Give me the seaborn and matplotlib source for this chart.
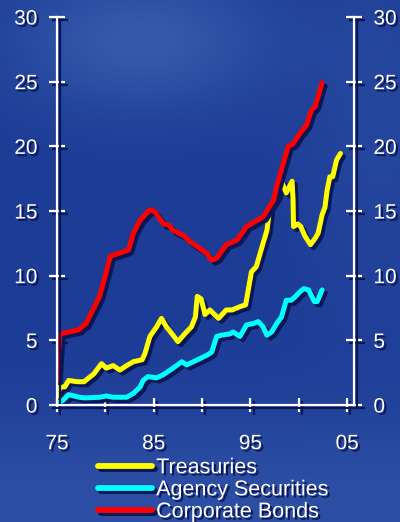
import numpy as np
import pandas as pd
import matplotlib
matplotlib.use("Agg")
import matplotlib.pyplot as plt
import matplotlib.patheffects as pe
import seaborn as sns

# ---- data (billions of dollars, by year) ----
treasury_years = [1975.0, 1975.3, 1975.8, 1976.2, 1977.1, 1977.8, 1978.2, 1978.8, 1979.6, 1980.1,
                  1980.8, 1981.5, 1982.2, 1982.9, 1983.8, 1984.1, 1984.6, 1985.3, 1985.8, 1986.3,
                  1987.0, 1987.5, 1988.2, 1988.9, 1989.3, 1989.5, 1989.9, 1990.3, 1990.8, 1991.7,
                  1992.5, 1993.1, 1993.9, 1994.5, 1995.1, 1995.6, 1996.2, 1996.7, 1997.0, 1997.7,
                  1998.2, 1998.7, 1999.3, 1999.4, 1999.45, 1999.9, 2000.2, 2000.6, 2001.2, 2001.7,
                  2002.0, 2002.4, 2002.7, 2002.9, 2003.2, 2003.5, 2003.9, 2004.3]
treasury_vals = [0.65, 1.4, 1.4, 1.9, 1.8, 1.8, 2.05, 2.4, 3.2, 2.85,
                 3.05, 2.7, 3.05, 3.35, 3.5, 4.0, 5.3, 6.05, 6.7, 6.05,
                 5.4, 4.9, 5.5, 6.05, 6.8, 8.4, 8.2, 7.0, 7.35, 6.7,
                 7.35, 7.35, 7.6, 7.75, 10.3, 10.7, 12.25, 13.5, 15.3, 16.1,
                 17.3, 16.4, 17.3, 15.85, 13.8, 14.0, 13.8, 13.1, 12.4, 12.9,
                 13.3, 14.7, 15.3, 16.5, 17.65, 17.65, 18.95, 19.45]

agency_years = [1975.0, 1975.6, 1976.2, 1977.3, 1977.9, 1979.4, 1980.1, 1980.8, 1982.2, 1982.9,
                1983.6, 1983.9, 1984.4, 1985.3, 1986.0, 1987.0, 1987.9, 1988.4, 1989.1, 1989.8,
                1990.5, 1991.0, 1991.5, 1992.0, 1992.9, 1993.2, 1993.9, 1994.6, 1995.3, 1995.8,
                1996.3, 1996.7, 1997.2, 1997.7, 1998.2, 1998.7, 1999.2, 1999.6, 2000.1, 2000.5,
                2001.0, 2001.6, 2001.9, 2002.4]
agency_vals = [0.15, 0.35, 0.8, 0.6, 0.55, 0.6, 0.7, 0.6, 0.6, 0.9,
               1.4, 1.9, 2.2, 2.1, 2.35, 2.85, 3.35, 3.1, 3.35, 3.6,
               3.85, 4.1, 5.3, 5.4, 5.5, 5.65, 5.3, 6.2, 6.3, 6.45,
               6.05, 5.4, 5.65, 6.3, 6.8, 8.1, 8.1, 8.35, 8.75, 9.0,
               8.9, 8.0, 8.0, 8.9]

corporate_years = [1975.0, 1975.3, 1977.2, 1978.0, 1979.4, 1980.1, 1980.5, 1981.5, 1982.4, 1982.9,
                   1983.6, 1984.6, 1985.1, 1986.0, 1986.6, 1987.0, 1988.1, 1988.8, 1989.8, 1990.5,
                   1991.0, 1991.5, 1992.5, 1993.6, 1994.6, 1995.5, 1996.3, 1997.4, 1997.7, 1998.4,
                   1998.9, 1999.4, 2000.1, 2000.8, 2001.3, 2001.7, 2002.4]
corporate_vals = [1.93, 5.5, 5.8, 6.3, 8.4, 10.3, 11.5, 11.75, 12.0, 13.3,
                  14.3, 15.1, 14.95, 14.0, 13.9, 13.5, 13.1, 12.6, 12.1, 11.7,
                  11.2, 11.35, 12.4, 12.75, 13.8, 14.2, 14.55, 15.85, 16.9, 18.7,
                  20.0, 20.2, 21.0, 21.65, 22.8, 23.1, 24.9]

series_names = ["Treasuries", "Agency Securities", "Corporate Bonds"]
series_colors = ["#ffff00", "#00ffff", "#ff0000"]

major_ticks = [1975, 1985, 1995, 2005]
major_labels = ["75", "85", "95", "05"]
minor_ticks = [1980, 1990, 2000]
y_ticks = [0, 5, 10, 15, 20, 25, 30]

frames = []
for name, yrs, vals in zip(series_names,
                           [treasury_years, agency_years, corporate_years],
                           [treasury_vals, agency_vals, corporate_vals]):
    frames.append(pd.DataFrame({"year": yrs, "value": vals, "series": name}))
df = pd.concat(frames, ignore_index=True)

# ---- style ----
sns.set_style("white")
plt.rcParams["font.family"] = ["Liberation Sans", "DejaVu Sans"]

shadow = "#0a1656"
text_fx = [pe.withSimplePatchShadow(offset=(1.6, -1.6), shadow_rgbFace=shadow, alpha=1.0)]
line_fx = [pe.SimpleLineShadow(offset=(2.2, -2.2), shadow_color=shadow, alpha=1.0), pe.Normal()]

fig = plt.figure(figsize=(4.0, 5.22), dpi=100)

# blue backdrop with soft lighter patches
bg = fig.add_axes([0, 0, 1, 1], zorder=0)
h, w = 522, 400
yy, xx = np.mgrid[0:h, 0:w]
base = np.array([29, 60, 150], dtype=float)
light = np.array([62, 100, 180], dtype=float)
glow = (0.75 * np.exp(-(((xx - 140) / 130.0) ** 2 + ((yy - 40) / 70.0) ** 2))
        + 0.45 * np.exp(-(((yy - 500) / 90.0) ** 2))
        + 0.25 * np.exp(-(((xx - 380) / 80.0) ** 2 + ((yy - 120) / 200.0) ** 2)))
glow = np.clip(glow, 0, 1)[..., None]
img = (base * (1 - glow) + light * glow) / 255.0
bg.imshow(img, aspect="auto", extent=[0, 1, 0, 1], origin="upper")
bg.set_axis_off()

ax = fig.add_axes([0.1425, 0.2241, 0.7425, 0.7433], zorder=1)
ax.patch.set_alpha(0)

sns.lineplot(data=df, x="year", y="value", hue="series", hue_order=series_names,
             palette=series_colors, linewidth=3.6, ax=ax, legend=False,
             estimator=None, sort=False)
for line in ax.get_lines():
    line.set_path_effects(line_fx)
    line.set_solid_capstyle("round")
    line.set_solid_joinstyle("round")

ax.set_xlim(1975, 2005.7)
ax.set_ylim(0, 30)
ax.set_xlabel("")
ax.set_ylabel("")

ax.set_xticks(major_ticks)
ax.set_xticklabels(major_labels)
ax.set_xticks(minor_ticks, minor=True)
ax.set_yticks(y_ticks)

for side in ["left", "right", "bottom"]:
    ax.spines[side].set_visible(True)
    ax.spines[side].set_color("white")
    ax.spines[side].set_linewidth(1.6)
    ax.spines[side].set_path_effects(line_fx)
ax.spines["top"].set_visible(False)

ax.tick_params(axis="y", which="major", direction="inout", length=12, width=1.6,
               colors="white", left=True, right=True, labelleft=True, labelright=True,
               labelsize=15, pad=8)
ax.tick_params(axis="x", which="both", direction="inout", length=10, width=1.6,
               colors="white", bottom=True, labelsize=15, pad=16)
ax.tick_params(axis="x", which="minor", length=10)

for lab in ax.get_xticklabels() + ax.get_yticklabels():
    lab.set_path_effects(text_fx)
for t in ax.yaxis.get_major_ticks():
    t.label2.set_path_effects(text_fx)
for t in ax.xaxis.get_major_ticks() + ax.xaxis.get_minor_ticks() + ax.yaxis.get_major_ticks():
    t.tick1line.set_path_effects(line_fx)
    t.tick2line.set_path_effects(line_fx)

handles = [plt.Line2D([], [], color=c, linewidth=4.2, solid_capstyle="round",
                      path_effects=line_fx) for c in series_colors]
leg = fig.legend(handles, series_names, loc="upper left", bbox_to_anchor=(0.245, 0.124),
                 frameon=False, fontsize=15.5, handlelength=2.5, handletextpad=0.2,
                 labelspacing=0.05, borderpad=0, borderaxespad=0)
for txt in leg.get_texts():
    txt.set_color("white")
    txt.set_path_effects(text_fx)

fig.savefig("out.png", dpi=100)
